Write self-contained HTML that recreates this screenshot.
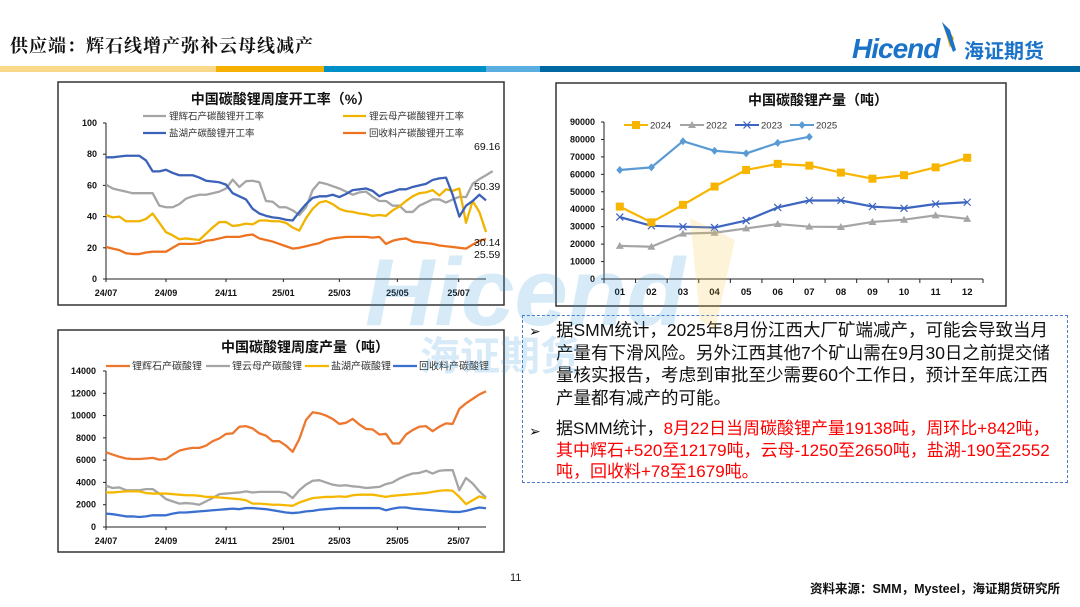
<!DOCTYPE html>
<html><head><meta charset="utf-8">
<style>
html,body{margin:0;padding:0;background:#fff;}
body{width:1080px;height:607px;position:relative;overflow:hidden;font-family:"Liberation Sans","Noto Sans CJK SC",sans-serif;}
#title{position:absolute;left:10px;top:32px;font-family:"Liberation Serif","Noto Serif CJK SC",serif;font-size:18px;font-weight:bold;color:#111;letter-spacing:1px;}
.bar{position:absolute;top:66px;height:6px;}
#textbox{position:absolute;left:522px;top:315px;width:546px;height:168px;border:1.5px dashed #4a7cc8;box-sizing:border-box;font-family:"Liberation Sans","Noto Sans CJK SC",sans-serif;font-size:17.5px;line-height:22.5px;color:#111;}
.para{position:absolute;left:33px;width:506px;}
.nw{white-space:nowrap;font-size:17px;line-height:21.5px;}
.arrow{position:absolute;left:6px;font-size:14px;}
.red{color:#f00;}
#page{position:absolute;left:510px;top:572px;font-size:11px;color:#222;}
#source{position:absolute;right:20px;top:578px;font-size:12.5px;font-weight:bold;color:#111;}
svg text{font-family:"Liberation Sans","Noto Sans CJK SC",sans-serif;}
</style></head>
<body>
<div id="title">供应端：辉石线增产弥补云母线减产</div>
<div class="bar" style="left:0;width:216px;background:#fbd98a"></div>
<div class="bar" style="left:216px;width:108px;background:#f5b000"></div>
<div class="bar" style="left:324px;width:162px;background:#0090c8"></div>
<div class="bar" style="left:486px;width:54px;background:#5aaee0"></div>
<div class="bar" style="left:540px;width:540px;background:#0068a0"></div>

<svg id="logo" style="position:absolute;left:850px;top:20px" width="210" height="45">
  <polygon points="92,2 104,18 100,28 96,14" fill="#f5b000"/>
  <polygon points="92,2 100,10 106,30 103,32" fill="#1a73c8"/>
  <text x="2" y="38" font-size="28" font-style="italic" font-weight="bold" fill="#1a73c8" style="letter-spacing:-1px">Hicend</text>
  <text x="114" y="38" font-size="20" font-weight="bold" fill="#1a73c8">海证期货</text>
</svg>

<svg id="charts" width="1080" height="607" style="position:absolute;left:0;top:0">
  <rect x="58" y="82" width="446" height="223" fill="#fff" stroke="#333" stroke-width="1.5"/>
  <rect x="58" y="330" width="446" height="222" fill="#fff" stroke="#333" stroke-width="1.5"/>
  <rect x="556" y="83" width="450" height="223" fill="#fff" stroke="#333" stroke-width="1.5"/>
  <g id="c1"></g><g id="c2"></g><g id="c3"></g>
</svg>

<div id="textbox">
  <span class="arrow" style="top:4px">➢</span>
  <div class="para" style="top:3px">据SMM统计，2025年8月份江西大厂矿端减产，可能会导致当月产量有下滑风险。另外江西其他7个矿山需在9月30日之前提交储量核实报告，考虑到审批至少需要60个工作日，预计至年底江西产量都有减产的可能。</div>
  <span class="arrow" style="top:104px">➢</span>
  <div class="para nw" style="top:102px">据SMM统计，<span class="red">8月22日当周碳酸锂产量19138吨，周环比+842吨，<br>其中辉石+520至12179吨，云母-1250至2650吨，盐湖-190至2552<br>吨，回收料+78至1679吨。</span></div>
</div>

<div id="page">11</div>
<div id="source">资料来源：SMM，Mysteel，海证期货研究所</div>

<svg id="wm" width="1080" height="607" style="position:absolute;left:0;top:0;pointer-events:none;opacity:0.2">
  <polygon points="690,218 735,240 715,330 700,320" fill="#f5c842"/>
  <text x="365" y="325" font-size="96" font-weight="bold" font-style="italic" fill="#3a9ad9">Hicend</text>
  <text x="420" y="370" font-size="40" font-weight="bold" fill="#3a9ad9">海证期货</text>
</svg>

<script>
// ---- chart 1: weekly utilization (%) ----
const weekLabels = ["24/07","24/09","24/11","25/01","25/03","25/05","25/07"];
const weekLabelIdx = [0,9,18,26.6,35,43.7,52.9];
const utilSpodumene = [60.5,58,57,56,55,55,55,55,47,46,46,48,51.5,53,54,54,55,56,58,63.7,59,62.7,63,62,50,49.5,46,46,44,41,46,57,62,61,59.5,58,56,54,55.5,56,52.7,50,50,47,47,43,43,47,49,51,51,49,51,52.7,52.5,61,64,66.5,69.16];
const utilLepidolite = [41,39.5,40,37,37,37,38.5,42,36,30,28,25.5,26,25.5,25,29,33,36.5,36.5,34,34.5,35.5,35,37.5,37.5,37,37,36,33,31,39,45,49,50,48,45,43.5,43,42,41.5,40.5,41,40.5,44,46.5,50,53,55,55.5,57,53.5,57.5,56.5,58,36,50,43,30.14];
const utilBrine = [78,78,78.5,79,79,79,76,69,69,70,68,66.5,66.5,66.5,65,63,62.5,62,60.5,55,53,51,45,42,40.5,39.5,39,38,37.5,43,48,52,53,53,54,52.5,54.5,57,57.5,58,56.5,53,55,56,57.5,57.5,59,60,61,63.5,64.5,65,54,40,47,50,54,50.39];
const utilRecycle = [20.5,19.5,18.5,16.5,16,16,17,17.5,17.5,17.5,20,22.5,22.5,22.5,23,24.5,25,26,27,27,27,28,28.5,26,25,24,22.5,21,19.5,20,21,22,23,25,26,26.5,27,27,27,27,26.5,27,22.5,24.5,25.5,26,24,23.5,23,22.5,21.5,21,20.5,20,19.5,22,24.5,25.59];
const utilTicks = [0,20,40,60,80,100];
const utilEndLabels = ["69.16","50.39","30.14","25.59"];

// ---- chart 2: weekly output (t) ----
const outSpodumene = [6700,6500,6300,6150,6100,6100,6150,6200,6050,6100,6500,6850,7000,7100,7100,7300,7700,7950,8350,8400,9000,9050,8850,8400,8200,7700,7700,7300,6750,7900,9600,10300,10200,10000,9700,9250,9350,9700,9200,8800,8750,8300,8350,7500,7500,8300,8700,9000,9050,8600,9000,9300,9250,10600,11100,11500,11900,12179];
const outLepidolite = [3700,3500,3550,3300,3300,3300,3400,3400,3000,2500,2300,2100,2150,2100,2000,2300,2600,2950,3000,3050,3100,3200,3100,3150,3150,3150,3150,3050,2600,3300,3800,4150,4200,4000,3800,3700,3750,3650,3600,3500,3550,3600,3850,4000,4350,4600,4800,4850,5050,4800,5050,5100,5100,3300,4400,3900,3200,2650];
const outBrine = [3100,3100,3150,3200,3200,3200,3050,3000,3000,3000,2950,2900,2850,2850,2800,2700,2700,2650,2600,2550,2500,2400,2100,2100,2050,2000,2000,1950,1900,2200,2400,2600,2650,2700,2700,2750,2700,2850,2900,2900,2900,2800,2700,2800,2850,2900,2950,3000,3050,3150,3250,3300,3250,2700,2050,2400,2750,2552];
const outRecycle = [1200,1150,1050,950,950,900,950,1050,1050,1050,1200,1300,1300,1350,1400,1450,1500,1550,1600,1650,1600,1700,1700,1650,1600,1500,1400,1300,1250,1300,1400,1450,1550,1600,1650,1700,1700,1700,1700,1700,1700,1700,1500,1650,1750,1750,1650,1600,1550,1500,1450,1400,1350,1350,1450,1600,1750,1679];
const outTicks = [0,2000,4000,6000,8000,10000,12000,14000];

// ---- chart 3: monthly output (t) ----
const months = ["01","02","03","04","05","06","07","08","09","10","11","12"];
const y2024 = [41500,32500,42500,53000,62500,66000,65000,61000,57500,59500,64000,69500];
const y2022 = [19000,18500,26000,26500,29000,31500,30000,29800,32700,34000,36500,34500];
const y2023 = [35500,30500,30000,29500,33500,41000,45000,45000,41500,40500,43000,44000];
const y2025 = [62500,64000,79000,73500,72000,78000,81500];
const monthTicks = [0,10000,20000,30000,40000,50000,60000,70000,80000,90000];

const NS="http://www.w3.org/2000/svg";
function mk(parent,tag,attrs){const e=document.createElementNS(NS,tag);for(const k in attrs)e.setAttribute(k,attrs[k]);parent.appendChild(e);return e;}
function txt(parent,x,y,s,size,anchor,weight,fill){const t=mk(parent,'text',{x:x,y:y,'font-size':size,'text-anchor':anchor||'start','font-weight':weight||'normal',fill:fill||'#111'});t.textContent=s;return t;}

// chart 1
(function(){
  const g=document.getElementById('c1');
  const x0=106,x1=486,yTop=123,yBot=279;
  const n=58;
  const xs=i=>x0+i*(x1-x0)/(n-1);
  const ys=v=>yBot-(v/100)*(yBot-yTop);
  const t=txt(g,281,104,"中国碳酸锂周度开工率（%）",14,'middle','bold');
  
  
  mk(g,'line',{x1:x0,y1:yTop,x2:x0,y2:yBot,stroke:'#222','stroke-width':1});
  mk(g,'line',{x1:x0,y1:yBot,x2:x1,y2:yBot,stroke:'#222','stroke-width':1});
  utilTicks.forEach(v=>{const l=txt(g,x0-9,ys(v)+3,String(v),9,'end','bold');
    mk(g,'line',{x1:x0-3,y1:ys(v),x2:x0,y2:ys(v),stroke:'#222'});});
  weekLabels.forEach((s,k)=>{const l=txt(g,xs(weekLabelIdx[k]),296,s,9,'middle','bold');
    mk(g,'line',{x1:xs(weekLabelIdx[k]),y1:yBot,x2:xs(weekLabelIdx[k]),y2:yBot+3,stroke:'#222'});});
  const series=[[utilSpodumene,'#a5a5a5','spodumene'],[utilLepidolite,'#f0b400','lepidolite'],[utilBrine,'#3b62b8','brine'],[utilRecycle,'#ee7320','recycle']];
  series.forEach(([d,c,nm])=>{
    const p=mk(g,'polyline',{points:d.map((v,i)=>xs(i)+','+ys(v)).join(' '),fill:'none',stroke:c,'stroke-width':2.3,'stroke-linejoin':'round'});
    
    
  });
  const leg=[["锂辉石产碳酸锂开工率",'#a5a5a5',143,116],["锂云母产碳酸锂开工率",'#f0b400',343,116],["盐湖产碳酸锂开工率",'#3b62b8',143,133],["回收料产碳酸锂开工率",'#ee7320',343,133]];
  leg.forEach(([s,c,x,y])=>{mk(g,'line',{x1:x,y1:y,x2:x+23,y2:y,stroke:c,'stroke-width':2.3});
    const l=txt(g,x+26,y+3.5,s,9.5,'start','normal','#333');});
  const endY=[150,190,246,258];
  utilEndLabels.forEach((s,k)=>{const l=txt(g,474,endY[k],s,10.5,'start','normal','#111');});
})();

// chart 2
(function(){
  const g=document.getElementById('c2');
  const x0=106,x1=486,yTop=371,yBot=527;
  const n=58;
  const xs=i=>x0+i*(x1-x0)/(n-1);
  const ys=v=>yBot-(v/14000)*(yBot-yTop);
  const t=txt(g,305,352,"中国碳酸锂周度产量（吨）",14,'middle','bold');
  
  
  mk(g,'line',{x1:x0,y1:yTop,x2:x0,y2:yBot,stroke:'#222'});
  mk(g,'line',{x1:x0,y1:yBot,x2:x1,y2:yBot,stroke:'#222'});
  outTicks.forEach(v=>{const l=txt(g,x0-10,ys(v)+3,String(v),9,'end','bold');
    mk(g,'line',{x1:x0-3,y1:ys(v),x2:x0,y2:ys(v),stroke:'#222'});});
  weekLabels.forEach((s,k)=>{const l=txt(g,xs(weekLabelIdx[k]),544,s,9,'middle','bold');
    mk(g,'line',{x1:xs(weekLabelIdx[k]),y1:yBot,x2:xs(weekLabelIdx[k]),y2:yBot+3,stroke:'#222'});});
  const series=[[outLepidolite,'#a5a5a5','lepidolite'],[outBrine,'#f5b800','brine'],[outRecycle,'#3b6fd0','recycle'],[outSpodumene,'#ee7730','spodumene']];
  series.forEach(([d,c,nm])=>{
    const p=mk(g,'polyline',{points:d.map((v,i)=>xs(i)+','+ys(v)).join(' '),fill:'none',stroke:c,'stroke-width':2.3,'stroke-linejoin':'round'});
    
    
  });
  const leg=[["锂辉石产碳酸锂",'#ee7730',106],["锂云母产碳酸锂",'#a5a5a5',206],["盐湖产碳酸锂",'#f5b800',305],["回收料产碳酸锂",'#3b6fd0',393]];
  leg.forEach(([s,c,x])=>{mk(g,'line',{x1:x,y1:366,x2:x+24,y2:366,stroke:c,'stroke-width':2.3});
    const l=txt(g,x+26,369.5,s,10,'start','normal','#333');});
})();

// chart 3
(function(){
  const g=document.getElementById('c3');
  const x0=604,x1=983,yTop=122,yBot=279;
  const step=(x1-x0)/12;
  const xs=i=>x0+step*(i+0.5);
  const ys=v=>yBot-(v/90000)*(yBot-yTop);
  const t=txt(g,818,105,"中国碳酸锂产量（吨）",14,'middle','bold');
  
  
  mk(g,'line',{x1:x0,y1:yTop,x2:x0,y2:yBot,stroke:'#222'});
  mk(g,'line',{x1:x0,y1:yBot,x2:x1,y2:yBot,stroke:'#222'});
  monthTicks.forEach(v=>{const l=txt(g,x0-9,ys(v)+3,String(v),9,'end','bold');
    mk(g,'line',{x1:x0-3,y1:ys(v),x2:x0,y2:ys(v),stroke:'#222'});});
  for(let i=0;i<=12;i++)mk(g,'line',{x1:x0+step*i,y1:yBot,x2:x0+step*i,y2:yBot+4,stroke:'#222'});
  months.forEach((s,i)=>{const l=txt(g,xs(i),295,s,9.5,'middle','bold');});
  function marker(x,y,type,c){
    if(type==='sq')mk(g,'rect',{x:x-4,y:y-4,width:8,height:8,fill:c});
    else if(type==='tri')mk(g,'polygon',{points:`${x},${y-4} ${x-4},${y+3} ${x+4},${y+3}`,fill:c});
    else if(type==='x'){mk(g,'line',{x1:x-3.5,y1:y-3.5,x2:x+3.5,y2:y+3.5,stroke:c,'stroke-width':1.2});mk(g,'line',{x1:x-3.5,y1:y+3.5,x2:x+3.5,y2:y-3.5,stroke:c,'stroke-width':1.2});}
    else mk(g,'polygon',{points:`${x},${y-4} ${x+3.5},${y} ${x},${y+4} ${x-3.5},${y}`,fill:c});
  }
  const series=[[y2022,'#a5a5a5','tri','2022'],[y2023,'#3c64c0','x','2023'],[y2024,'#f7b500','sq','2024'],[y2025,'#5b9bd5','dia','2025']];
  series.forEach(([d,c,m,nm])=>{
    const p=mk(g,'polyline',{points:d.map((v,i)=>xs(i)+','+ys(v)).join(' '),fill:'none',stroke:c,'stroke-width':2.2,'stroke-linejoin':'round'});
    
    
    d.forEach((v,i)=>marker(xs(i),ys(v),m,c));
  });
  const leg=[["2024",'#f7b500','sq',624],["2022",'#a5a5a5','tri',680],["2023",'#3c64c0','x',735],["2025",'#5b9bd5','dia',790]];
  leg.forEach(([s,c,m,x])=>{mk(g,'line',{x1:x,y1:125,x2:x+24,y2:125,stroke:c,'stroke-width':2});marker(x+12,125,m,c);
    const l=txt(g,x+26,128.5,s,9.5,'start','normal','#333');});
})();
</script>
</body></html>
